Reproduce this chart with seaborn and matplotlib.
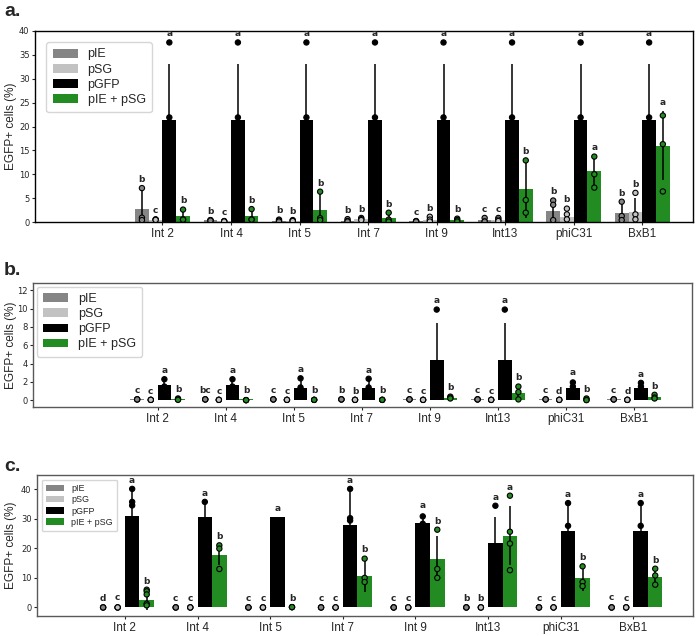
import matplotlib
matplotlib.use("Agg")
import matplotlib.pyplot as plt
import matplotlib.transforms as mtransforms
import seaborn as sns
import pandas as pd

sns.set_style("ticks")
plt.rcParams["font.family"] = ["Liberation Sans", "DejaVu Sans"]

groups = ["Int 2", "Int 4", "Int 5", "Int 7", "Int 9", "Int13", "phiC31", "BxB1"]
conds = ["pIE", "pSG", "pGFP", "pIE + pSG"]
colours = {"pIE": "#858585", "pSG": "#c2c2c2", "pGFP": "#000000", "pIE + pSG": "#228b22"}

# panel a: one list per plasmid (pIE, pSG, pGFP, pIE + pSG), one value per integrase
a_means = [[2.8, 0.35, 0.3, 0.3, 0.15, 0.35, 2.3, 1.8],
           [0.5, 0.15, 0.3, 0.6, 0.5, 0.5, 1.05, 2.15],
           [21.4] * 8,
           [1.2, 1.25, 2.5, 0.85, 0.4, 6.9, 10.75, 16.0]]
a_errs = [[4.3, 0.1, 0.2, 0.3, 0.05, 0.4, 2.2, 2.4],
          [0.1, 0.05, 0.1, 0.2, 0.6, 0.3, 1.2, 2.8],
          [11.7] * 8,
          [1.4, 1.45, 3.85, 1.1, 0.3, 6.0, 3.05, 7.3]]
a_points = [[[7.1, 0.9, 0.4], [0.4, 0.35, 0.3], [0.5, 0.3, 0.1], [0.6, 0.2, 0.1],
             [0.2, 0.15, 0.1], [0.85, 0.1, 0.1], [4.5, 3.6, 0.4], [4.25, 1.25, 0.4]],
            [[0.55, 0.5, 0.45], [0.2, 0.15, 0.1], [0.4, 0.3, 0.2], [0.85, 0.6, 0.4],
             [1.1, 0.5, 0.1], [0.85, 0.5, 0.2], [2.8, 1.6, 0.55], [6.1, 1.6, 0.55]],
            [[37.6, 21.9, 9.6]] * 8,
            [[2.6, 0.55, 0.5], [2.7, 0.55, 0.5], [6.35, 0.8, 0.4], [1.95, 0.5, 0.1],
             [0.7, 0.4, 0.1], [12.9, 4.6, 1.95], [13.7, 10.0, 7.2], [22.3, 16.3, 6.4]]]
a_letters = [["b", "b", "b", "b", "c", "c", "b", "b"],
             ["c", "c", "b", "b", "b", "c", "b", "b"],
             ["a"] * 8,
             ["b", "b", "b", "b", "b", "b", "a", "a"]]

# panel b
b_means = [[0.1, 0.02, 0.02, 0.06, 0.1, 0.1, 0.1, 0.1],
           [0.02, 0.02, 0.02, 0.02, 0.02, 0.02, 0.02, 0.02],
           [1.7, 1.7, 1.35, 1.35, 4.45, 4.45, 1.3, 1.3],
           [0.12, 0.1, 0.08, 0.08, 0.3, 0.75, 0.08, 0.35]]
b_errs = [[0] * 8,
          [0] * 8,
          [0.63, 0.63, 1.05, 1.0, 4.0, 4.0, 0.8, 0.6],
          [0.05, 0, 0, 0, 0.1, 0.75, 0.05, 0.2]]
b_points = [[[0.1, 0.1, 0.1]] * 8,
            [[0.05, 0.05, 0.05]] * 8,
            [[2.3, 1.5, 1.35], [2.3, 1.5, 1.35], [2.4, 1.4, 0.6], [2.35, 1.4, 0.55],
             [9.9, 2.35, 1.5], [9.9, 2.35, 1.5], [1.95, 1.5, 0.9], [1.9, 1.5, 0.9]],
            [[0.2, 0.1, 0.05], [0.02, 0.02, 0.02], [0.05, 0.05, 0.05], [0.05, 0.05, 0.05],
             [0.4, 0.3, 0.2], [1.5, 0.9, 0.1], [0.2, 0.05, 0.02], [0.6, 0.3, 0.2]]]
b_letters = [["c", "bc", "c", "b", "c", "c", "c", "c"],
             ["c", "c", "c", "b", "c", "c", "d", "d"],
             ["a"] * 8,
             ["b"] * 8]

# panel c
c_means = [[0.02, 0.02, 0.02, 0.02, 0.02, 0.02, 0.02, 0.3],
           [0.3, 0.02, 0.02, 0.02, 0.02, 0.02, 0.02, 0.02],
           [31.0, 30.6, 30.5, 27.8, 28.5, 21.7, 25.8, 25.8],
           [2.6, 17.7, 0.2, 10.8, 16.4, 24.3, 9.8, 10.3]]
c_errs = [[0] * 8,
          [0] * 8,
          [9.1, 5.1, 0, 12.3, 3.1, 8.8, 9.5, 9.5],
          [3.4, 3.3, 0, 5.7, 7.6, 10.1, 4.1, 2.8]]
c_points = [[[0, 0, 0]] * 8,
            [[0, 0, 0]] * 8,
            [[40.1, 35.7, 34.5, 29.3, 16.0], [35.7, 29.4, 27.2], [28.2, 21.9, 19.4],
             [40.1, 30.2, 29.4, 12.3], [30.8, 28.3, 27.4], [34.4, 19.7, 12.3],
             [35.3, 27.6, 15.2], [35.3, 27.6, 15.2]],
            [[6.0, 5.45, 4.4, 1.25, 0.7], [21.0, 19.9, 13.0], [0.1, 0.1, 0.1],
             [16.5, 10.0, 8.6], [26.3, 13.0, 10.0], [37.8, 25.6, 21.6, 12.6],
             [13.9, 8.6, 7.2], [13.1, 10.8, 7.7]]]
c_letters = [["d", "c", "c", "c", "c", "b", "c", "c"],
             ["c", "c", "c", "c", "c", "b", "c", "c"],
             ["a"] * 8,
             ["b", "b", "b", "b", "b", "a", "b", "b"]]


def draw_panel(ax, means, errs, points, letters, ylim, xlim, yticks, leg_size, leg_pad, spine_col):
    bars = pd.DataFrame([(g, c, means[j][i]) for j, c in enumerate(conds) for i, g in enumerate(groups)],
                        columns=["Integrase", "Plasmid", "EGFP"])
    dots = pd.DataFrame([(g, c, v) for j, c in enumerate(conds) for i, g in enumerate(groups)
                         for v in points[j][i]], columns=["Integrase", "Plasmid", "EGFP"])
    sns.barplot(data=bars, x="Integrase", y="EGFP", hue="Plasmid", order=groups, hue_order=conds,
                palette=colours, errorbar=None, saturation=1, linewidth=0, width=0.8, ax=ax)
    containers = list(ax.containers)
    for j, cont in enumerate(containers):
        xs = [b.get_x() + b.get_width() / 2 for b in cont]
        ax.errorbar(xs, means[j], yerr=errs[j], fmt="none", ecolor="black", elinewidth=1.1, zorder=2)
        for i, x in enumerate(xs):
            top = max(means[j][i] + errs[j][i], max(points[j][i]))
            ax.annotate(letters[j][i], (x, top), xytext=(0, 3), textcoords="offset points",
                        ha="center", va="bottom", fontsize=6.5, fontweight="bold",
                        family="DejaVu Sans")
    sns.stripplot(data=dots, x="Integrase", y="EGFP", hue="Plasmid", order=groups, hue_order=conds,
                  palette=colours, dodge=True, jitter=False, size=3.8, linewidth=0.8,
                  edgecolor="gray", legend=False, zorder=3, ax=ax)
    ax.set_xlim(*xlim)
    ax.set_ylim(*ylim)
    ax.set_yticks(yticks)
    ax.set_xlabel("")
    ax.set_ylabel("EGFP+ cells (%)", fontsize=8.5)
    ax.tick_params(axis="y", labelsize=6, length=2.5, pad=1.5)
    ax.tick_params(axis="x", labelsize=8.5, length=2.5, pad=1.5)
    for lab in ax.get_yticklabels():
        lab.set_family("DejaVu Sans")
    for s in ax.spines.values():
        s.set_visible(True)
        s.set_color(spine_col)
        s.set_linewidth(1.0)
    sns.move_legend(ax, "upper left", title=None, fontsize=leg_size, frameon=True,
                    borderaxespad=leg_pad, labelspacing=0.25, handlelength=2.0, borderpad=0.5)


fig = plt.figure(figsize=(6.97, 6.36), dpi=100)
ax_a = fig.add_axes([35 / 697, 1 - 222 / 636, 658 / 697, 191 / 636])
ax_b = fig.add_axes([33 / 697, 1 - 407 / 636, 659 / 697, 124 / 636])
ax_c = fig.add_axes([37 / 697, 1 - 616 / 636, 656 / 697, 141 / 636])

draw_panel(ax_a, a_means, a_errs, a_points, a_letters, (0, 40), (-1.86, 7.74),
           range(0, 41, 5), 9, 0.9, "black")
draw_panel(ax_b, b_means, b_errs, b_points, b_letters, (-0.73, 12.8), (-1.83, 7.85),
           range(0, 13, 2), 9, 0.3, "0.35")
draw_panel(ax_c, c_means, c_errs, c_points, c_letters, (-2.9, 44.8), (-1.21, 7.82),
           range(0, 41, 10), 6.5, 0.5, "0.35")

# y labels all sit at the same distance from the figure edge
for ax in (ax_a, ax_b, ax_c):
    ax.yaxis.set_label_coords(17 / 697, 0.5)
    ax.yaxis.label.set_transform(mtransforms.blended_transform_factory(fig.transFigure, ax.transAxes))

fig.text(4 / 697, 1 - 3 / 636, "a.", fontsize=14, fontweight="bold", va="top", ha="left")
fig.text(4 / 697, 1 - 262 / 636, "b.", fontsize=14, fontweight="bold", va="top", ha="left")
fig.text(4 / 697, 1 - 458 / 636, "c.", fontsize=14, fontweight="bold", va="top", ha="left")

fig.savefig("out.png", dpi=100)
